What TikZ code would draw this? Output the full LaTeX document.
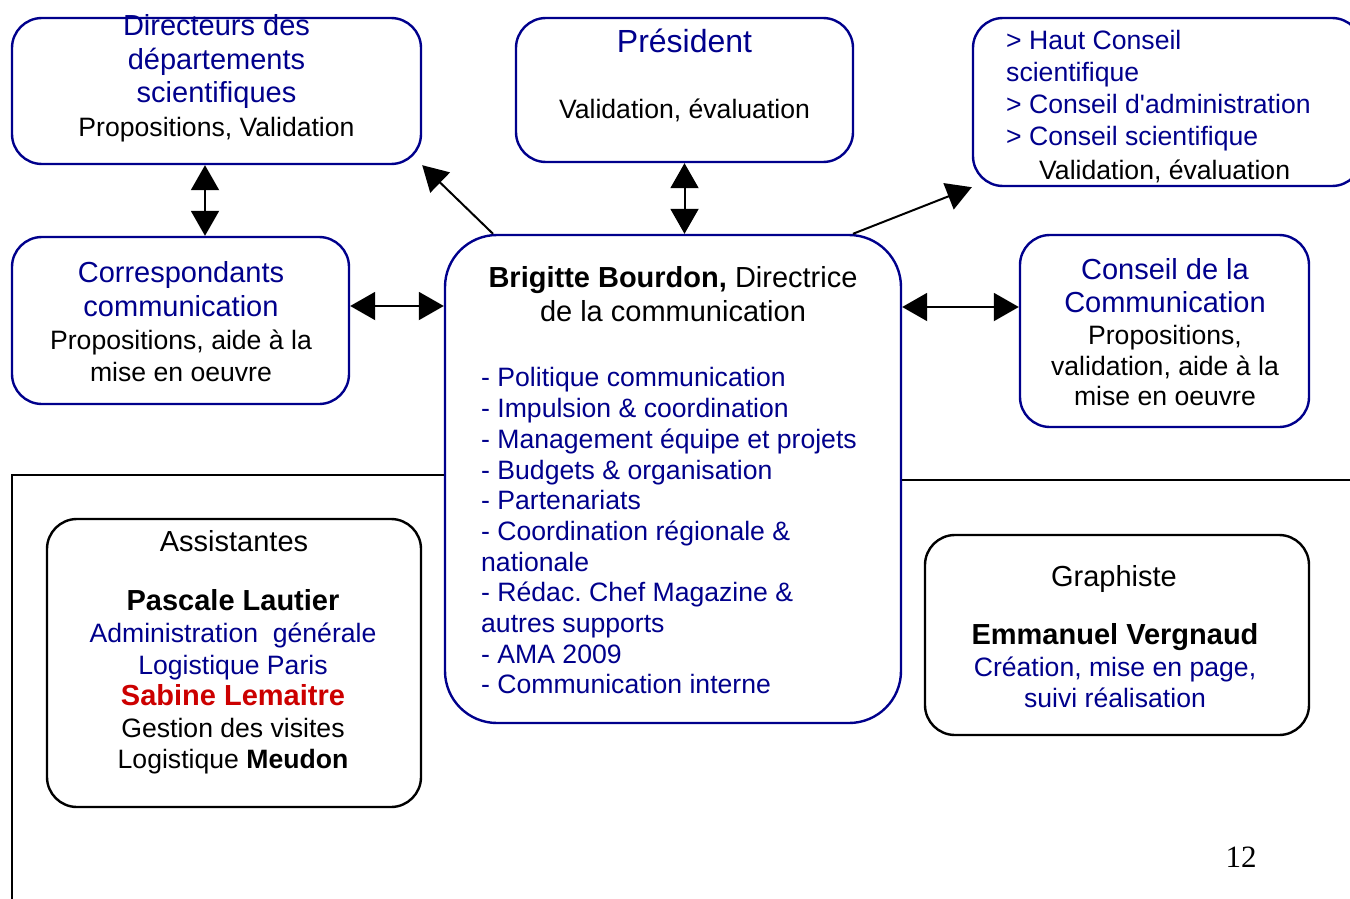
\documentclass[tikz,border=0pt]{standalone}
\usepackage{fontspec}
\setmainfont{Liberation Sans}[Ligatures=TeXOff]
\newfontfamily\pagefont{Liberation Serif}
\usetikzlibrary{arrows.meta}
\frenchspacing
\definecolor{navy}{RGB}{0,0,140}
\definecolor{redname}{RGB}{204,0,0}
\newcommand\headfont{\fontsize{29}{33.5}\selectfont}
\newcommand\normfont{\fontsize{26.6}{31.5}\selectfont}
\tikzset{
	box/.style={draw=navy, line width=2.4pt, rounded corners=30pt, inner sep=0pt},
	kbox/.style={box, draw=black},
	txt/.style={inner sep=0pt, align=center, font=\normfont},
	hd/.style={txt, text=navy, font=\headfont},
	dbl/.style={line width=2pt, {Triangle[length=25pt,width=28pt]}-{Triangle[length=25pt,width=28pt]}},
	sgl/.style={line width=2pt, -{Triangle[length=25pt,width=28pt]}}
}

\begin{document}
\begin{tikzpicture}[x=1pt, y=-1pt]
	\useasboundingbox (0,0) rectangle (1350,899);
	\fill[white] (0,0) rectangle (1350,899);

	\node[box, minimum width=409pt, minimum height=146pt] (dir) at (216.5,91) {};
	\node[hd, anchor=north] (dirT) at (216.5,14.6) {Directeurs des\\départements\\scientifiques};
	\node[txt, anchor=north] (dirS) at (216.5,117.5) {Propositions, Validation};

	\node[box, minimum width=337pt, minimum height=144pt] (pres) at (684.5,90) {};
	\node[txt, anchor=north, text=navy, font=\fontsize{32}{36}\selectfont] (presT) at (684.5,28.5) {Président};
	\node[txt, anchor=north] (presS) at (684.5,98.5) {Validation, évaluation};

	\node[box, minimum width=389pt, minimum height=168pt] (hc) at (1167.5,102) {};
	\node[txt, align=left, anchor=north west, text=navy, font=\fontsize{26.6}{31.7}\selectfont] (hcT) at (1006,30.5)
		{> Haut Conseil\\scientifique\\> Conseil d'administration\\> Conseil scientifique};
	\node[txt, anchor=north west] (hcS) at (1039,159.5) {Validation, évaluation};

	\node[box, minimum width=337pt, minimum height=167pt] (corr) at (180.5,320.5) {};
	\node[hd, anchor=north, font=\fontsize{29}{34}\selectfont] (corrT) at (181,261.6) {Correspondants\\communication};
	\node[txt, anchor=north, font=\fontsize{26.6}{32}\selectfont] (corrS) at (181,329.5) {Propositions, aide à la\\mise en oeuvre};

	\node[box, rounded corners=52pt, minimum width=456pt, minimum height=488pt] (cen) at (673,479) {};
	\node[txt, anchor=north, font=\fontsize{29}{34}\selectfont] (cenT) at (673,266.6) {\textbf{Brigitte Bourdon,} Directrice\\de la communication};
	\node[txt, align=left, anchor=north west, text=navy, font=\fontsize{26.6}{30.7}\selectfont] (cenL) at (481,367.5)
		{- Politique communication\\- Impulsion \& coordination\\- Management équipe et projets\\- Budgets \& organisation\\- Partenariats\\- Coordination régionale \&\\nationale\\- Rédac. Chef Magazine \&\\autres supports\\- AMA 2009\\- Communication interne};

	\node[box, minimum width=289pt, minimum height=192pt] (cons) at (1164.5,331) {};
	\node[hd, anchor=north, font=\fontsize{29}{33}\selectfont] (consT) at (1165,258.6) {Conseil de la\\Communication};
	\node[txt, anchor=north, font=\fontsize{26.6}{30.5}\selectfont] (consS) at (1165,325.5) {Propositions,\\validation, aide à la\\mise en oeuvre};

	\node[kbox, minimum width=374pt, minimum height=288pt] (asst) at (234,663) {};
	\node[txt, anchor=north, font=\headfont] (asstT) at (234,530.6) {Assistantes};
	\node[txt, anchor=north, font=\fontsize{26.6}{31.6}\selectfont] (asstS) at (233,589.6)
		{{\fontsize{29}{31.6}\selectfont\bfseries Pascale Lautier}\\\textcolor{navy}{Administration\ \ générale}\\\textcolor{navy}{Logistique Paris}\\{\fontsize{29}{31.6}\selectfont\bfseries\color{redname}Sabine Lemaitre}\\Gestion des visites\\Logistique \textbf{Meudon}};

	\node[kbox, minimum width=384pt, minimum height=200pt] (graph) at (1117,635) {};
	\node[txt, anchor=north, font=\headfont] (graphT) at (1114,565.6) {Graphiste};
	\node[txt, anchor=north, font=\fontsize{26.6}{31.5}\selectfont] (graphS) at (1115,623.6)
		{{\fontsize{29}{31.5}\selectfont\bfseries Emmanuel Vergnaud}\\\textcolor{navy}{Création, mise en page,}\\\textcolor{navy}{suivi réalisation}};

	\node[inner sep=0pt, font=\pagefont\fontsize{31}{36}\selectfont] (pnum) at (1241,857) {12};

	\coordinate (sepL) at (12,475);
	\coordinate (sepR) at (1350,480);
	\draw[line width=2pt] (12,899) -- (sepL) -- (sepL -| cen.west);
	\draw[line width=2pt] (sepR -| cen.east) -- (sepR);

	\draw[dbl] ([xshift=-11.5pt]dir.south) -- ([xshift=-11.5pt]dir.south |- corr.north);
	\draw[dbl] (pres.south) -- (pres.south |- cen.north);
	\draw[dbl] ([yshift=14.5pt]corr.east) -- ([yshift=14.5pt]corr.east -| cen.west);
	\draw[dbl] ([yshift=24pt]cons.west -| cen.east) -- ([yshift=24pt]cons.west);
	\draw[sgl] ([xshift=-180pt]cen.north) -- (dir.south east);
	\draw[sgl] ([xshift=180pt]cen.north) -- (hc.south west);
\end{tikzpicture}
\end{document}
